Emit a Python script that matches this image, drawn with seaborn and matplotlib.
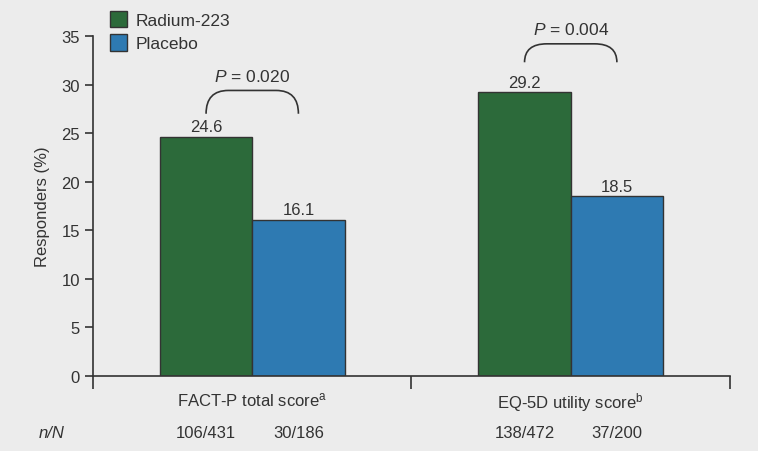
import matplotlib
matplotlib.use("Agg")
import matplotlib.pyplot as plt
import seaborn as sns
import pandas as pd
from matplotlib.path import Path
from matplotlib.patches import PathPatch

# Données
categories = ["FACT-P total score$^{\\mathrm{a}}$", "EQ-5D utility score$^{\\mathrm{b}}$"]
groups = ["Radium-223", "Placebo"]
radium = [24.6, 29.2]
placebo = [16.1, 18.5]
nN_radium = ["106/431", "138/472"]
nN_placebo = ["30/186", "37/200"]
p_values = ["0.020", "0.004"]

df = pd.DataFrame({
    "cat": categories * 2,
    "grp": [groups[0]] * 2 + [groups[1]] * 2,
    "val": radium + placebo,
})

bg = "#ececec"
txt = "#333333"
sns.set_style("ticks")
plt.rcParams["font.family"] = ["Liberation Sans", "DejaVu Sans"]
plt.rcParams["mathtext.fontset"] = "custom"
plt.rcParams["mathtext.rm"] = "Liberation Sans"
plt.rcParams["mathtext.it"] = "Liberation Sans:italic"

fig = plt.figure(figsize=(7.58, 4.52), dpi=100, facecolor=bg)
ax = fig.add_axes([0.1227, 0.166, 0.8403, 0.752])
ax.set_facecolor(bg)

palette = {"Radium-223": "#2c6a3a", "Placebo": "#2e7ab2"}
sns.barplot(data=df, x="cat", y="val", hue="grp", palette=palette, width=0.58,
            edgecolor="#333333", linewidth=1.0, saturation=1, ax=ax, legend=True)

ax.set_xlim(-0.5, 1.5)
ax.set_ylim(0, 35)
ax.set_yticks(range(0, 36, 5))
ax.set_xticks([0, 1])
ax.set_xticklabels(categories, fontsize=12, color=txt)
ax.tick_params(axis="x", length=0, pad=10)
ax.set_xticks([-0.5, 0.5, 1.5], minor=True)
ax.tick_params(axis="x", which="minor", length=9, width=1.2, color=txt, direction="out")
ax.tick_params(axis="y", length=6, width=1.2, color=txt, labelsize=12, labelcolor=txt)
ax.set_xlabel("")
ax.set_ylabel("Responders (%)", fontsize=12, color=txt, labelpad=8)
for s in ["top", "right"]:
    ax.spines[s].set_visible(False)
for s in ["left", "bottom"]:
    ax.spines[s].set_color(txt)
    ax.spines[s].set_linewidth(1.2)

# valeurs au-dessus des barres
for cont in ax.containers:
    ax.bar_label(cont, fmt="%.1f", padding=2, fontsize=12, color=txt)

# légende
h, l = ax.get_legend_handles_labels()
ax.legend(h, l, loc="upper left", bbox_to_anchor=(0.015, 1.095), frameon=False,
          fontsize=12.5, handlelength=1.0, handleheight=1.1, handletextpad=0.5,
          labelspacing=0.35, labelcolor=txt, borderaxespad=0)

# accolades P
off = 0.29 / 2
brackets = [(27.0, 29.4, 30.9), (32.3, 34.2, 35.7)]
for i, (yend, ytop, ytxt) in enumerate(brackets):
    x0, x1 = i - off, i + off
    r = 0.07
    verts = [(x0, yend), (x0, ytop), (x0 + r, ytop),
             (x1 - r, ytop),
             (x1, ytop), (x1, yend)]
    codes = [Path.MOVETO, Path.CURVE3, Path.CURVE3, Path.LINETO, Path.CURVE3, Path.CURVE3]
    ax.add_patch(PathPatch(Path(verts, codes), fill=False, edgecolor=txt, lw=1.2,
                           clip_on=False))
    ax.text(i, ytxt, "$P$ = " + p_values[i], ha="center", va="center",
            fontsize=12.5, color=txt, clip_on=False)

# ligne n/N
trans = ax.get_xaxis_transform()
ax.text(-0.63, -0.165, "n/N", ha="center", va="center", fontsize=12,
        style="italic", color=txt, transform=trans)
for i in range(2):
    ax.text(i - off, -0.165, nN_radium[i], ha="center", va="center", fontsize=12,
            color=txt, transform=trans)
    ax.text(i + off, -0.165, nN_placebo[i], ha="center", va="center", fontsize=12,
            color=txt, transform=trans)

fig.savefig("out.png", dpi=100, facecolor=bg)
